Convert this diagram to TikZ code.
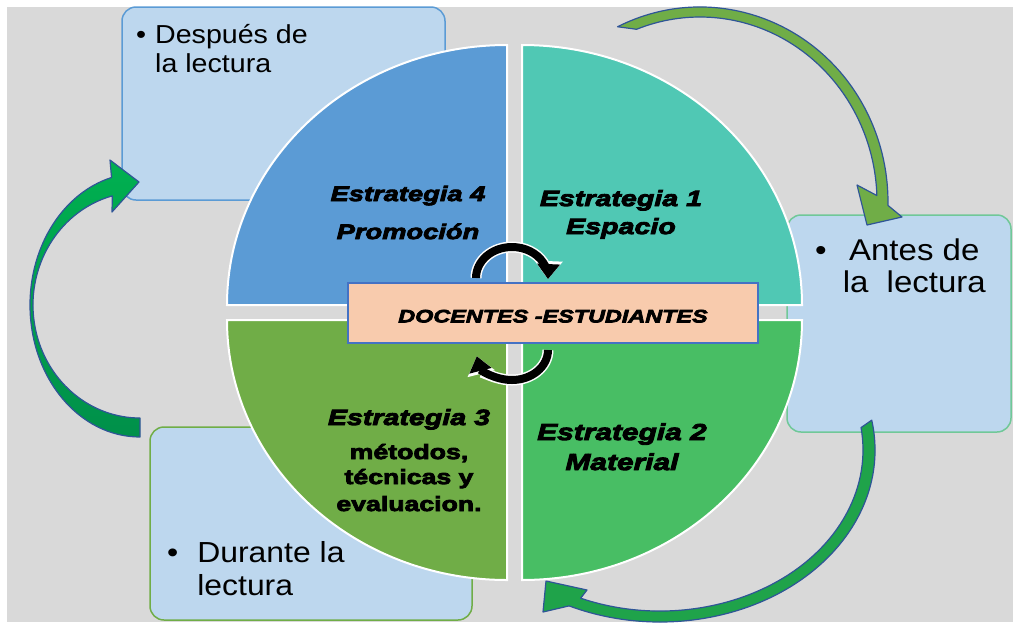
\documentclass[tikz,border=0pt]{standalone}
\usepackage{fontspec}
\setmainfont{Liberation Sans}[FakeStretch=1.1]
\newfontfamily\negra{Liberation Sans}[FakeStretch=1.3,BoldFeatures={FakeBold=4},BoldItalicFeatures={FakeBold=4}]
\usepackage{tikz}
\usetikzlibrary{arrows.meta,calc}

\definecolor{fondo}{HTML}{D9D9D9}
\definecolor{azulq}{HTML}{5B9BD5}
\definecolor{turquesa}{HTML}{50C8B4}
\definecolor{verdeq}{HTML}{48BE64}
\definecolor{oliva}{HTML}{70AD47}
\definecolor{celeste}{HTML}{BDD7EE}
\definecolor{bordeverde}{HTML}{70C898}
\definecolor{durazno}{HTML}{F8CBAD}
\definecolor{azulborde}{HTML}{4472C4}
\definecolor{azuloscuro}{HTML}{2F5597}
\definecolor{verdeflecha}{HTML}{1FA34A}
\definecolor{verdeclaro}{HTML}{00B050}
\definecolor{verdeoscuro}{HTML}{00904A}

\begin{document}
\begin{tikzpicture}[x=1pt, y=-1pt, >={Triangle[width=22pt,length=15pt]},
    caja/.style={fill=celeste, line width=1.5pt, rounded corners=14pt},
    cuarto/.style={draw=white, line width=2pt},
    flecha/.style={draw=azuloscuro, line width=1.2pt, line join=round},
    giro/.style={->, line width=8pt},
    borde/.style={white, line width=11pt, -{Triangle[width=27pt,length=18pt]}},
    lectura/.style={inner sep=0pt, anchor=base west},
    estrategia/.style={inner sep=0pt, anchor=base, font=\negra\bfseries\itshape\fontsize{#1}{28}\selectfont}]
    \useasboundingbox (0,0) rectangle (1013,622);
    \coordinate (c1) at (700,202);
    \coordinate (c2) at (660,450);
    \coordinate (c3) at (140,305);
    \coordinate (g1) at (512,278);
    \coordinate (g2) at (512,350);

    % 背景
    \fill[fondo] (7,7) rectangle (1013,622);

    % 三个文本框
    \draw[caja, draw=azulq] (122,7) rectangle (445,200);
    \draw[caja, draw=bordeverde] (787,215) rectangle (1011,432);
    \draw[caja, draw=oliva] (150,427) rectangle (472,620);

    \node[lectura, font=\fontsize{26}{29}\selectfont] (despues) at (136,43)
        {\begin{tabular}[t]{@{}l@{\hspace{9pt}}l@{}}•&Después de\\&la lectura\end{tabular}};
    \node[lectura, font=\fontsize{30}{32}\selectfont] (antes) at (815,260)
        {\begin{tabular}[t]{@{}l@{\hspace{16pt}}c@{}}•&Antes de\\&la\ \ lectura\end{tabular}};
    \node[lectura, font=\fontsize{29}{33}\selectfont] (durante) at (167,562)
        {\begin{tabular}[t]{@{}l@{\hspace{19pt}}l@{}}•&Durante la\\&lectura\end{tabular}};

    % 大弯箭头
    \path[flecha, fill=oliva] ($(c1)+(244:188 and 195)$)
        arc[start angle=244, end angle=361, x radius=188, y radius=195]
        -- (902,217) -- (867,225) -- (857,185) -- ($(c1)+(358:177 and 185)$)
        arc[start angle=358, end angle=249, x radius=177, y radius=185] -- cycle;
    \path[flecha, fill=verdeflecha] ($(c2)+(-10:215 and 172)$)
        arc[start angle=-10, end angle=115, x radius=215, y radius=172]
        -- (543,612) -- (546,581) -- (587,590) -- ($(c2)+(113:203 and 161)$)
        arc[start angle=113, end angle=-8, x radius=203, y radius=161] -- cycle;
    \path[flecha, top color=verdeclaro, bottom color=verdeoscuro] ($(c3)+(90:110 and 132)$)
        arc[start angle=90, end angle=255, x radius=110, y radius=132]
        -- (110,160) -- (139,182) -- (112,212) -- ($(c3)+(255:107 and 113)$)
        arc[start angle=255, end angle=90, x radius=107, y radius=113] -- cycle;

    % 四个扇形
    \filldraw[cuarto, fill=azulq] (507,305) -- (227,305)
        arc[start angle=180, end angle=270, x radius=280, y radius=260] -- cycle;
    \filldraw[cuarto, fill=turquesa] (522,305) -- (522,45)
        arc[start angle=270, end angle=360, x radius=280, y radius=260] -- cycle;
    \filldraw[cuarto, fill=verdeq] (522,320) -- (802,320)
        arc[start angle=0, end angle=90, x radius=280, y radius=260] -- cycle;
    \filldraw[cuarto, fill=oliva] (507,320) -- (507,580)
        arc[start angle=90, end angle=180, x radius=280, y radius=260] -- cycle;

    % 策略标签
    \node[estrategia=21] (e4) at (408,201)
        {\begin{tabular}[t]{@{}c@{}}Estrategia 4\\[10pt]Promoción\end{tabular}};
    \node[estrategia=22] (e1) at (621,206)
        {\begin{tabular}[t]{@{}c@{}}Estrategia 1\\Espacio\end{tabular}};
    \node[estrategia=23] (e2) at (622,440)
        {\begin{tabular}[t]{@{}c@{}}Estrategia 2\\[2pt]Material\end{tabular}};
    \node[estrategia=22] (e3) at (409,425)
        {\begin{tabular}[t]{@{}c@{}}Estrategia 3\\[6pt]\fontsize{20.5}{25}\selectfont\upshape métodos,\\[-3pt]
        \fontsize{20.5}{25}\selectfont\upshape técnicas y\\[-1pt]\fontsize{20.5}{25}\selectfont\upshape evaluacion.\end{tabular}};

    % 中间的框
    \node[draw=azulborde, fill=durazno, line width=1.5pt, minimum width=410pt, minimum height=60pt,
        inner sep=0pt, text height=19pt, font=\negra\bfseries\itshape\fontsize{18}{20}\selectfont]
        (centro) at (553,313) {DOCENTES -ESTUDIANTES};

    % 小圆箭头
    \draw[borde] ($(g1)+(180:36 and 31)$) arc[start angle=180, end angle=362, x radius=36, y radius=31];
    \draw[giro] ($(g1)+(180:36 and 31)$) arc[start angle=180, end angle=362, x radius=36, y radius=31];
    \draw[borde] ($(g2)+(0:36 and 30)$) arc[start angle=0, end angle=168, x radius=36, y radius=30];
    \draw[giro] ($(g2)+(0:36 and 30)$) arc[start angle=0, end angle=168, x radius=36, y radius=30];
\end{tikzpicture}
\end{document}
